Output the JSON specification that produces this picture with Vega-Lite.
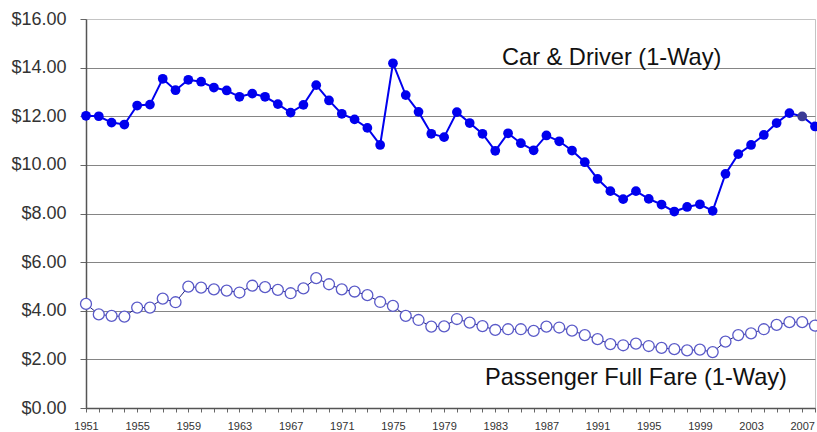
{
  "$schema": "https://vega.github.io/schema/vega-lite/v6.json",
  "width": 729,
  "height": 389,
  "autosize": {"type": "none"},
  "padding": {"left": 86, "top": 19, "right": 2, "bottom": 24},
  "background": "white",
  "config": {
    "view": {"stroke": "#c4c4c4", "strokeWidth": 1},
    "font": "Liberation Sans"
  },
  "datasets": {
    "fares": [
      {"year": 1951, "car": 12.02, "passenger": 4.28},
      {"year": 1952, "car": 12.0, "passenger": 3.85},
      {"year": 1953, "car": 11.74, "passenger": 3.79},
      {"year": 1954, "car": 11.66, "passenger": 3.76},
      {"year": 1955, "car": 12.44, "passenger": 4.13},
      {"year": 1956, "car": 12.48, "passenger": 4.13},
      {"year": 1957, "car": 13.54, "passenger": 4.5},
      {"year": 1958, "car": 13.07, "passenger": 4.35},
      {"year": 1959, "car": 13.5, "passenger": 4.99},
      {"year": 1960, "car": 13.42, "passenger": 4.95},
      {"year": 1961, "car": 13.18, "passenger": 4.88},
      {"year": 1962, "car": 13.06, "passenger": 4.83},
      {"year": 1963, "car": 12.8, "passenger": 4.75},
      {"year": 1964, "car": 12.93, "passenger": 5.03},
      {"year": 1965, "car": 12.8, "passenger": 4.97},
      {"year": 1966, "car": 12.5, "passenger": 4.86},
      {"year": 1967, "car": 12.15, "passenger": 4.72},
      {"year": 1968, "car": 12.47, "passenger": 4.92},
      {"year": 1969, "car": 13.28, "passenger": 5.34},
      {"year": 1970, "car": 12.65, "passenger": 5.09},
      {"year": 1971, "car": 12.1, "passenger": 4.88},
      {"year": 1972, "car": 11.87, "passenger": 4.79},
      {"year": 1973, "car": 11.52, "passenger": 4.64},
      {"year": 1974, "car": 10.82, "passenger": 4.36},
      {"year": 1975, "car": 14.18, "passenger": 4.2},
      {"year": 1976, "car": 12.87, "passenger": 3.79},
      {"year": 1977, "car": 12.18, "passenger": 3.62},
      {"year": 1978, "car": 11.28, "passenger": 3.35},
      {"year": 1979, "car": 11.14, "passenger": 3.36},
      {"year": 1980, "car": 12.17, "passenger": 3.66},
      {"year": 1981, "car": 11.72, "passenger": 3.51},
      {"year": 1982, "car": 11.28, "passenger": 3.37},
      {"year": 1983, "car": 10.58, "passenger": 3.21},
      {"year": 1984, "car": 11.3, "passenger": 3.24},
      {"year": 1985, "car": 10.89, "passenger": 3.24},
      {"year": 1986, "car": 10.6, "passenger": 3.17},
      {"year": 1987, "car": 11.21, "passenger": 3.35},
      {"year": 1988, "car": 10.97, "passenger": 3.31},
      {"year": 1989, "car": 10.59, "passenger": 3.18},
      {"year": 1990, "car": 10.11, "passenger": 3.0},
      {"year": 1991, "car": 9.42, "passenger": 2.83},
      {"year": 1992, "car": 8.92, "passenger": 2.63},
      {"year": 1993, "car": 8.59, "passenger": 2.58},
      {"year": 1994, "car": 8.92, "passenger": 2.65},
      {"year": 1995, "car": 8.6, "passenger": 2.55},
      {"year": 1996, "car": 8.37, "passenger": 2.47},
      {"year": 1997, "car": 8.08, "passenger": 2.42},
      {"year": 1998, "car": 8.27, "passenger": 2.37},
      {"year": 1999, "car": 8.38, "passenger": 2.4},
      {"year": 2000, "car": 8.11, "passenger": 2.3},
      {"year": 2001, "car": 9.63, "passenger": 2.73},
      {"year": 2002, "car": 10.44, "passenger": 3.0},
      {"year": 2003, "car": 10.82, "passenger": 3.07},
      {"year": 2004, "car": 11.23, "passenger": 3.24},
      {"year": 2005, "car": 11.72, "passenger": 3.42},
      {"year": 2006, "car": 12.13, "passenger": 3.53},
      {"year": 2007, "car": 11.99, "passenger": 3.53},
      {"year": 2008, "car": 11.58, "passenger": 3.39}
    ],
    "labels": [
      {"year": 1992.1, "value": 14.12, "text": "Car & Driver (1-Way)"},
      {"year": 1994.0, "value": 0.95, "text": "Passenger Full Fare (1-Way)"}
    ]
  },
  "encoding": {
    "x": {
      "field": "year",
      "type": "quantitative",
      "scale": {"domain": [1951, 2008], "nice": false, "zero": false},
      "axis": {
        "title": null,
        "grid": false,
        "values": [1951,1952,1953,1954,1955,1956,1957,1958,1959,1960,1961,1962,1963,1964,1965,1966,1967,1968,1969,1970,1971,1972,1973,1974,1975,1976,1977,1978,1979,1980,1981,1982,1983,1984,1985,1986,1987,1988,1989,1990,1991,1992,1993,1994,1995,1996,1997,1998,1999,2000,2001,2002,2003,2004,2005,2006,2007,2008],
        "labelExpr": "(datum.value - 1951) % 4 == 0 ? format(datum.value, 'd') : ''",
        "labelOverlap": false,
        "labelFlush": false,
        "labelFontSize": 11,
        "labelColor": "#333333",
        "labelPadding": 8,
        "tickSize": 4,
        "tickColor": "#666666",
        "domainColor": "#555555",
        "domainWidth": 1.5
      }
    },
    "y": {
      "field": "value",
      "type": "quantitative",
      "scale": {"domain": [0, 16], "nice": false},
      "axis": {
        "title": null,
        "values": [0, 2, 4, 6, 8, 10, 12, 14, 16],
        "format": "$.2f",
        "labelFontSize": 18,
        "labelColor": "#333333",
        "labelPadding": 14,
        "tickSize": 6,
        "tickColor": "#666666",
        "domainColor": "#555555",
        "domainWidth": 1.5,
        "grid": true,
        "gridColor": {"condition": {"test": "datum.value == 16", "value": "#c4c4c4"}, "value": "#858585"},
        "gridWidth": 1.2
      }
    }
  },
  "layer": [
    {
      "data": {"name": "fares"},
      "transform": [{"fold": ["passenger"], "as": ["series", "value"]}],
      "mark": {"type": "line", "stroke": "#1c1c80", "strokeWidth": 1}
    },
    {
      "data": {"name": "fares"},
      "transform": [{"fold": ["passenger"], "as": ["series", "value"]}],
      "mark": {"type": "point", "shape": "circle", "filled": true, "fill": "white", "stroke": "#5a5ac8", "strokeWidth": 1.3, "size": 120, "opacity": 1}
    },
    {
      "data": {"name": "fares"},
      "transform": [{"fold": ["car"], "as": ["series", "value"]}],
      "mark": {"type": "line", "stroke": "#0000ee", "strokeWidth": 2}
    },
    {
      "data": {"name": "fares"},
      "transform": [{"fold": ["car"], "as": ["series", "value"]}],
      "mark": {"type": "point", "shape": "circle", "filled": true, "size": 95, "opacity": 1},
      "encoding": {
        "color": {"condition": {"test": "datum.year == 2007", "value": "#3b3b96"}, "value": "#0000ee"}
      }
    },
    {
      "data": {"name": "labels"},
      "mark": {"type": "text", "align": "center", "baseline": "alphabetic", "fontSize": 23.6, "color": "#111111", "font": "Liberation Sans"},
      "encoding": {"text": {"field": "text"}}
    }
  ]
}
